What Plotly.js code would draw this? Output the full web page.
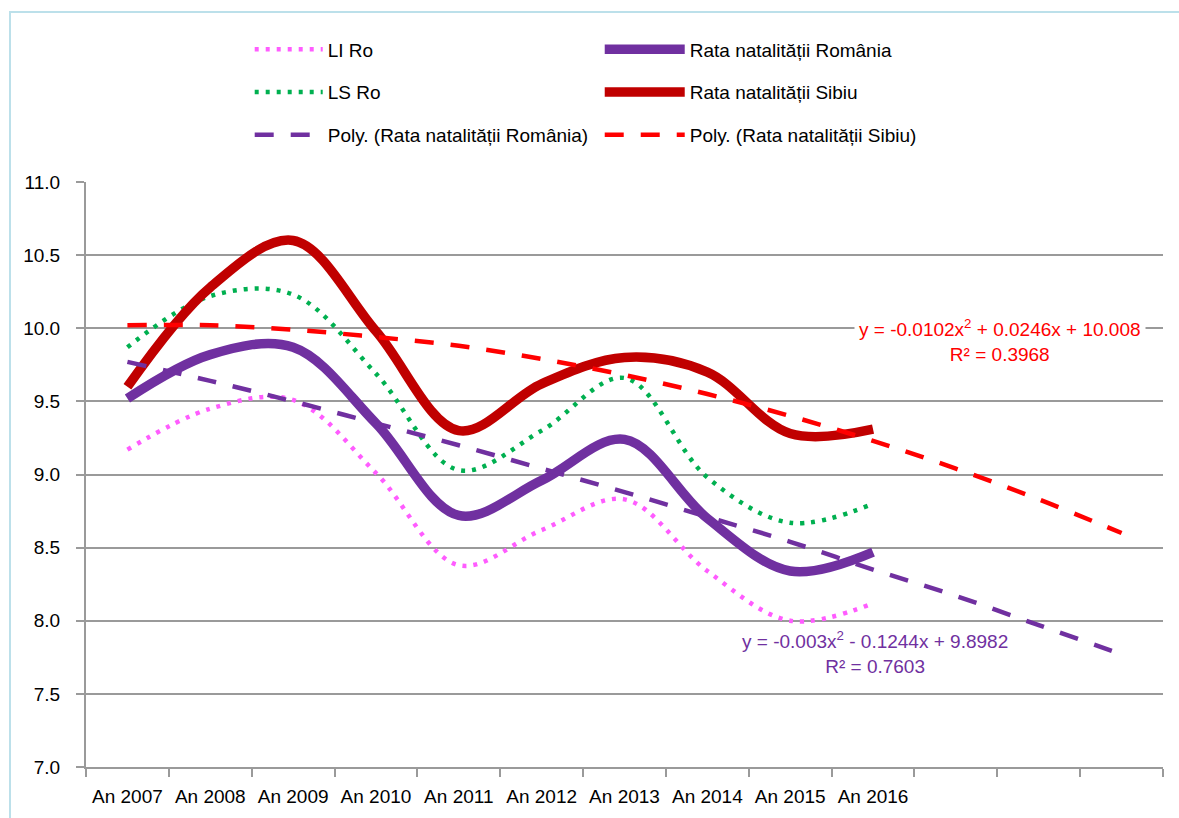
<!DOCTYPE html>
<html><head><meta charset="utf-8">
<script src="https://cdn.plot.ly/plotly-3.0.1.min.js"></script>
<style>
html,body{margin:0;padding:0;background:#fff;}
#wrap{position:relative;width:1179px;height:818px;overflow:hidden;}
#chart{width:1179px;height:818px;}
#frame{position:absolute;left:9px;top:11px;right:-5px;bottom:-5px;border-left:2px solid #BCE0EA;border-top:2px solid #BCE0EA;pointer-events:none;}
</style></head><body>
<div id="wrap"><div id="chart"></div><div id="frame"></div></div>
<script>
// ---- data ----
const years = ['An 2007','An 2008','An 2009','An 2010','An 2011','An 2012','An 2013','An 2014','An 2015','An 2016'];
const forecastPeriods = 3;
const rataRomania = [9.52, 9.82, 9.87, 9.35, 8.72, 8.96, 9.24, 8.70, 8.34, 8.47];
const rataSibiu   = [9.60, 10.28, 10.60, 9.98, 9.30, 9.62, 9.80, 9.70, 9.28, 9.31];
const liRo        = [9.17, 9.45, 9.51, 9.01, 8.38, 8.62, 8.83, 8.34, 8.00, 8.12];
const lsRo        = [9.87, 10.22, 10.23, 9.69, 9.03, 9.30, 9.66, 8.98, 8.67, 8.80];
const polyRomania = [9.77, 9.64, 9.50, 9.35, 9.20, 9.04, 8.88, 8.71, 8.54, 8.35, 8.17, 7.97, 7.77];
const polySibiu   = [10.02, 10.02, 9.99, 9.94, 9.88, 9.79, 9.68, 9.55, 9.40, 9.23, 9.04, 8.83, 8.60];
const eqRomania = 'y = -0.003x<sup>2</sup> - 0.1244x + 9.8982<br>R² = 0.7603';
const eqSibiu   = 'y = -0.0102x<sup>2</sup> + 0.0246x + 10.008<br>R² = 0.3968';

// ---- build ----
const xi = years.map((_, i) => i);
const xTrend = polyRomania.map((_, i) => i);
const nCats = years.length + forecastPeriods;

const FONT = 'Liberation Sans, Arial, sans-serif';
const FS = 19;
const PURPLE = '#7030A0', DARKRED = '#C00000', RED = '#FF0000', PINK = '#FF5CFF', GREEN = '#00B050';
const GRID = '#9A9A9A';

const traces = [
  {x: xi, y: liRo, name: 'LI Ro', mode: 'lines', legend: 'legend', legendgroup: 'a',
   line: {color: PINK, width: 4.5, dash: '4px,7px', shape: 'spline', smoothing: 1}},
  {x: xi, y: lsRo, name: 'LS Ro', mode: 'lines', legend: 'legend', legendgroup: 'b',
   line: {color: GREEN, width: 4.5, dash: '4px,7px', shape: 'spline', smoothing: 1}},
  {x: xi, y: rataRomania, name: 'Rata natalității România', mode: 'lines', legend: 'legend2', legendgroup: 'c',
   line: {color: PURPLE, width: 9.5, shape: 'spline', smoothing: 1}},
  {x: xi, y: rataSibiu, name: 'Rata natalității Sibiu', mode: 'lines', legend: 'legend2', legendgroup: 'd',
   line: {color: DARKRED, width: 9.5, shape: 'spline', smoothing: 1}},
  {x: xTrend, y: polyRomania, name: 'Poly. (Rata natalității România)', mode: 'lines', legend: 'legend', legendgroup: 'e',
   line: {color: PURPLE, width: 4.5, dash: '19px,17px', shape: 'spline', smoothing: 1}},
  {x: xTrend, y: polySibiu, name: 'Poly. (Rata natalității Sibiu)', mode: 'lines', legend: 'legend2', legendgroup: 'f',
   line: {color: RED, width: 4.5, dash: '19px,17px', shape: 'spline', smoothing: 1}}
];

const legendCommon = {
  orientation: 'v', xanchor: 'left', yanchor: 'top', y: 1.259,
  font: {family: FONT, size: FS, color: '#000'}, bgcolor: 'rgba(0,0,0,0)',
  tracegroupgap: 15, traceorder: 'grouped'
};

const layout = {
  width: 1179, height: 818,
  margin: {l: 86, r: 16, t: 182, b: 51},
  paper_bgcolor: '#fff', plot_bgcolor: '#fff',
  font: {family: FONT, size: FS, color: '#000'},
  showlegend: true,
  legend: Object.assign({}, legendCommon, {x: 0.152, itemwidth: 68}),
  legend2: Object.assign({}, legendCommon, {x: 0.477, itemwidth: 80}),
  xaxis: {
    range: [-0.5, nCats - 0.5], tickmode: 'array', tickvals: xi, ticktext: years,
    tickangle: 0, ticks: '', showgrid: false, zeroline: false, showline: true, linecolor: GRID, linewidth: 2,
    ticklabelstandoff: 11,
    tickfont: {family: FONT, size: FS, color: '#000'},
    minor: {tickmode: 'linear', tick0: -0.5, dtick: 1, ticks: 'outside', ticklen: 8, tickwidth: 2, tickcolor: GRID, showgrid: false}
  },
  yaxis: {
    range: [7, 11], dtick: 0.5, tick0: 7, tickformat: '.1f',
    ticks: 'outside', ticklen: 8, tickwidth: 2, tickcolor: GRID,
    showgrid: true, gridcolor: GRID, gridwidth: 2, zeroline: false,
    showline: true, linecolor: GRID, linewidth: 2, ticklabelstandoff: 12,
    tickfont: {family: FONT, size: FS, color: '#000'}
  },
  annotations: [
    {xref: 'x', yref: 'y', x: 10.53, y: 9.918, text: eqSibiu, showarrow: false, align: 'center',
     font: {family: FONT, size: FS, color: RED}, bgcolor: '#fff', borderpad: 4},
    {xref: 'x', yref: 'y', x: 9.02, y: 7.782, text: eqRomania, showarrow: false, align: 'center',
     font: {family: FONT, size: FS, color: PURPLE}}
  ]
};

Plotly.newPlot('chart', traces, layout, {staticPlot: true, displayModeBar: false});
</script>
</body></html>
